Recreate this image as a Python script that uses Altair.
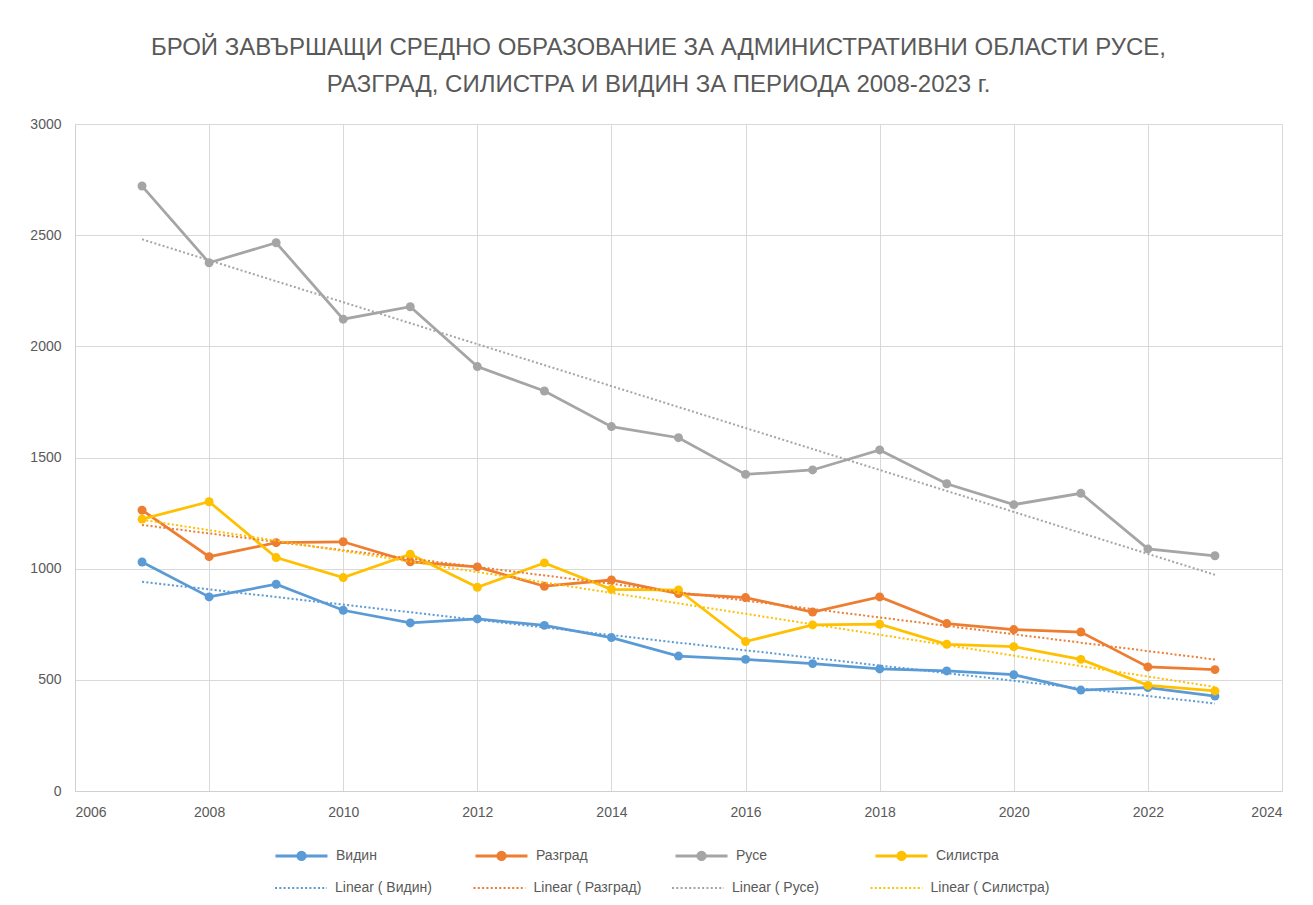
import altair as alt
import pandas as pd

years = list(range(2007, 2024))
regions = ["Видин", "Разград", "Русе", "Силистра"]
vidin = [1030, 873, 930, 813, 756, 774, 745, 690, 607, 592, 573, 549, 540, 523, 454, 465, 427]
razgrad = [1263, 1054, 1117, 1121, 1031, 1008, 921, 949, 888, 870, 805, 873, 753, 726, 715, 558, 546]
ruse = [2721, 2376, 2466, 2122, 2178, 1909, 1799, 1639, 1589, 1424, 1444, 1534, 1382, 1288, 1339, 1089, 1058]
silistra = [1223, 1301, 1050, 960, 1065, 916, 1026, 907, 904, 672, 747, 750, 660, 649, 592, 475, 450]
colors = ["#5B9BD5", "#ED7D31", "#A5A5A5", "#FFC000"]
trend_names = ["Linear ( " + r + ")" for r in regions]
title_lines = ["БРОЙ ЗАВЪРШАЩИ СРЕДНО ОБРАЗОВАНИЕ ЗА АДМИНИСТРАТИВНИ ОБЛАСТИ РУСЕ,",
               "РАЗГРАД, СИЛИСТРА И ВИДИН ЗА ПЕРИОДА 2008-2023 г."]

rows = []
for name, vals in zip(regions, [vidin, razgrad, ruse, silistra]):
    for y, v in zip(years, vals):
        rows.append({"year": y, "value": v, "region": name})
df = pd.DataFrame(rows)

FONT = "Liberation Sans, Arial, sans-serif"
TXT = "#595959"

# line with a solid-looking dot (concentric circles stroked)
legend_path = ("M-1,0H1"
               "M0.14,0A0.14,0.14,0,1,1,-0.14,0A0.14,0.14,0,1,1,0.14,0Z"
               "M0.06,0A0.06,0.06,0,1,1,-0.06,0A0.06,0.06,0,1,1,0.06,0Z")

legend_main = alt.Legend(
    title=None, orient="none", legendX=199, legendY=704, columns=4,
    gridAlign="all", columnPadding=70,
    symbolType=legend_path, symbolSize=2704, symbolStrokeWidth=3, symbolOpacity=1,
    labelFont=FONT, labelFontSize=14, labelColor=TXT, labelOffset=7, labelLimit=300,
)
legend_trend = alt.Legend(
    title=None, orient="none", legendX=199, legendY=737, columns=4,
    gridAlign="all", columnPadding=15.5,
    symbolType="M-1,0H1", symbolSize=2704, symbolStrokeWidth=2, symbolDash=[2, 2.3],
    symbolOpacity=1,
    labelFont=FONT, labelFontSize=14, labelColor=TXT, labelOffset=7, labelLimit=300,
)

x_enc = alt.X("year:Q", scale=alt.Scale(domain=[2006, 2024], nice=False, zero=False),
              axis=alt.Axis(values=list(range(2006, 2025, 2)), format="d", title=None))
y_enc = alt.Y("value:Q", scale=alt.Scale(domain=[0, 3000], nice=False),
              axis=alt.Axis(values=list(range(0, 3001, 500)), format="d", title=None))

base = alt.Chart(df)

lines = base.mark_line(strokeWidth=2.75, point=alt.OverlayMarkDef(filled=True, size=80, opacity=1)).encode(
    x=x_enc, y=y_enc,
    color=alt.Color("region:N", scale=alt.Scale(domain=regions, range=colors), legend=legend_main),
)

trends = base.transform_regression(
    "year", "value", groupby=["region"], method="linear"
).transform_calculate(
    trend="'Linear ( ' + datum.region + ')'"
).mark_line(strokeWidth=2, strokeDash=[2, 2.3]).encode(
    x=x_enc, y=y_enc,
    color=alt.Color("trend:N", scale=alt.Scale(domain=trend_names, range=colors), legend=legend_trend),
)

chart = alt.layer(lines, trends).resolve_scale(color="independent").properties(
    width=1207, height=667,
    padding={"left": 17, "top": 28, "right": 20, "bottom": 2},
    title=alt.TitleParams(text=title_lines, font=FONT, fontSize=24, fontWeight="normal",
                          color=TXT, lineHeight=37, anchor="middle", offset=20, dx=-20),
).configure_view(stroke=None).configure_axis(
    labelFont=FONT, labelFontSize=14, labelColor=TXT,
    gridColor="#D9D9D9", gridWidth=1, domainColor="#D0D0D0", domainWidth=1,
    ticks=False,
).configure_axisY(minExtent=50, maxExtent=50, labelPadding=14).configure_axisX(labelPadding=14)

chart.save("out.html", embed_options={"renderer": "svg", "actions": False})
